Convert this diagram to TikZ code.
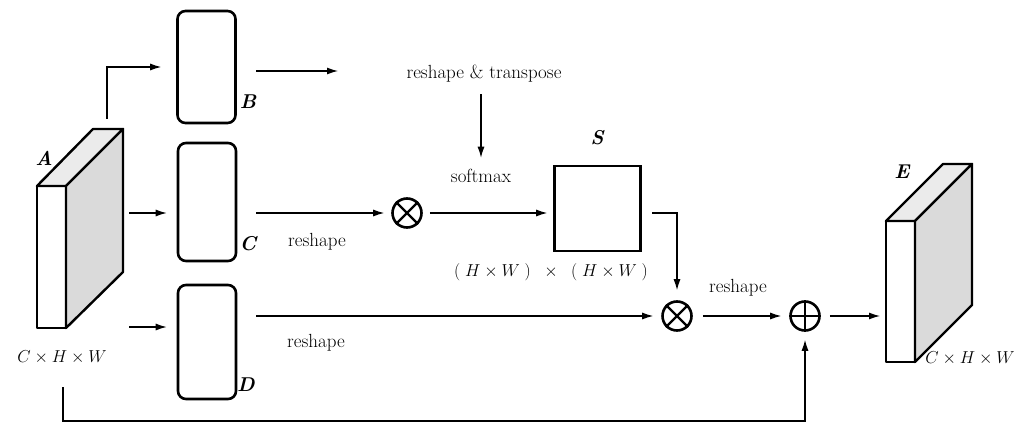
\documentclass[tikz,border=0pt]{standalone}
\usetikzlibrary{arrows.meta,calc}
\definecolor{sideface}{HTML}{DADADA}
\definecolor{topface}{HTML}{EBEBEB}
\begin{document}
\begin{tikzpicture}[x=1pt,y=-1pt,
  every node/.style={font=\fontsize{19}{22}\selectfont},
  dim/.style={font=\fontsize{17}{20}\selectfont},
  arr/.style={line width=1.2pt,-{Latex[length=11pt,width=7pt]}},
  feat/.style={draw,line width=2.6pt,rounded corners=8pt,minimum width=58pt,inner sep=0pt},
  sq/.style={draw,line width=2.6pt,minimum width=86pt,minimum height=85pt,inner sep=0pt},
  op/.style={draw,circle,line width=2.6pt,minimum size=29pt,inner sep=0pt},
  tag/.style={font=\fontsize{20}{24}\selectfont\bfseries\itshape},
  face/.style={draw,line width=2.4pt,line join=round}]
\useasboundingbox (0,0) rectangle (1017,425);

% input feature block A
\path[face,fill=white] (37,186) rectangle (66,328);
\path[face,fill=topface] (37,186) -- (93,129) -- (123,129) -- (66,186) -- cycle;
\path[face,fill=sideface] (66,186) -- (123,129) -- (123,272) -- (66,328) -- cycle;
\node[tag] (lA) at (44,158) {A};
\node[dim] (dimA) at (62,357) {$C\times H\times W$};

% output feature block E
\path[face,fill=white] (886,221) rectangle (915,362);
\path[face,fill=topface] (886,221) -- (943,164) -- (972,164) -- (915,221) -- cycle;
\path[face,fill=sideface] (915,221) -- (972,164) -- (972,305) -- (915,362) -- cycle;
\node[tag] (lE) at (902,172) {E};
\node[dim] (dimE) at (970,358) {$C\times H\times W$};

% branch feature maps
\node[feat,minimum height=112pt] (B) at (206.5,67) {};
\node[tag] (lB) at (248,102) {B};
\node[feat,minimum height=118pt] (C) at (207,202) {};
\node[tag] (lC) at (248,244) {C};
\node[feat,minimum height=114pt] (D) at (207,342) {};
\node[tag] (lD) at (246,385) {D};

% attention map S
\node[sq] (S) at (597.5,208.5) {};
\node[tag] (lS) at (597,138) {S};
\node[dim] (dimS) at (551,272) {$(\;H\times W\;)\;\;\times\;\;(\;H\times W\;)$};

% operators
\node[op] (m1) at (407,213) {};
\draw[line width=2.4pt] (m1.45) -- (m1.225) (m1.135) -- (m1.315);
\node[op] (m2) at (677,316) {};
\draw[line width=2.4pt] (m2.45) -- (m2.225) (m2.135) -- (m2.315);
\node[op] (ad) at (805,316) {};
\draw[line width=2.4pt] (ad.north) -- (ad.south) (ad.west) -- (ad.east);

% text labels
\node (rt) at (484,74) {reshape \& transpose};
\node (sm) at (481,176) {softmax};
\node (r1) at (317,242) {reshape};
\node (r2) at (316,343) {reshape};
\node (r3) at (738,288) {reshape};

% connector end points
\coordinate (aT) at (107,119);
\coordinate (aC) at (129,213);
\coordinate (aD) at (129,327);
\coordinate (bO) at (256,71);
\coordinate (bE) at (338,71);
\coordinate (cO) at (256,213);
\coordinate (dO) at (256,316);
\coordinate (sO) at (652,213);
\coordinate (aB) at (63,387);
\coordinate (bot) at (63,421);
\coordinate (eF) at (880,316);

% connectors
\draw[arr,shorten >=15pt] (aT) |- (B.west);
\draw[arr,shorten >=10pt] (aC) -- (aC -| C.west);
\draw[arr,shorten >=10pt] (aD) -- (aD -| D.west);
\draw[arr] (bO) -- (bE);
\draw[arr,shorten <=8pt,shorten >=8pt] (sm.north |- rt.south) -- (sm.north);
\draw[arr,shorten >=7pt] (cO) -- (m1);
\draw[arr,shorten <=7pt,shorten >=6pt] (m1) -- (S.west |- m1);
\draw[arr,shorten >=10pt] (sO) -| (m2);
\draw[arr,shorten >=8pt] (dO) -- (m2);
\draw[arr,shorten <=10pt,shorten >=8pt] (m2) -- (ad);
\draw[arr,shorten <=9pt] (ad) -- (eF);
\draw[arr,shorten >=8pt] (aB) -- (bot) -| (ad);
\end{tikzpicture}
\end{document}
